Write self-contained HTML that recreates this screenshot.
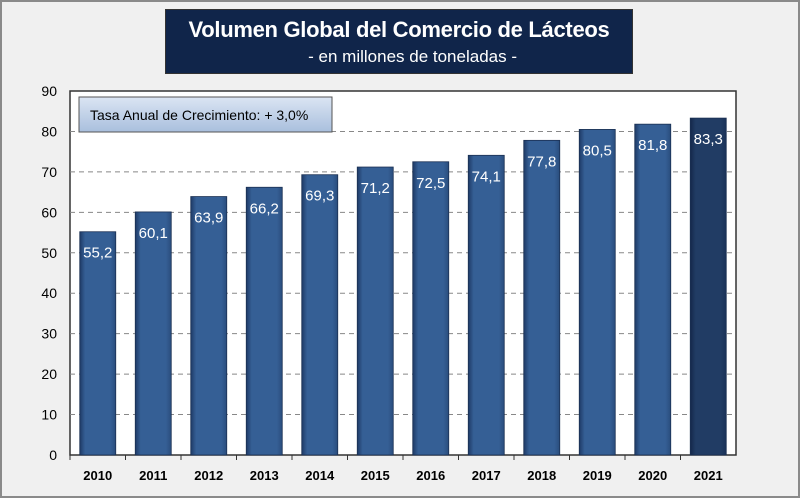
<!DOCTYPE html>
<html><head><meta charset="utf-8"><style>
body{margin:0;width:800px;height:498px;overflow:hidden;background:#f0f0f0;font-family:"Liberation Sans",sans-serif}
#frame{position:absolute;left:0;top:0;width:796px;height:494px;border:2px solid #8a8a8a;background:#f0f0f0}
#title{position:absolute;left:165px;top:9px;width:466px;height:63px;background:#10254a;border:1px solid #333;color:#fff;text-align:center;white-space:nowrap;overflow:hidden}
#title .t{font-size:22px;font-weight:bold;margin-top:7px;letter-spacing:-0.3px}
#title .s{font-size:17px;text-align:right;padding-right:115px;margin-top:4px}
</style></head><body>
<div id="frame"></div>
<div id="title"><div class="t">Volumen Global del Comercio de Lácteos</div><div class="s">- en millones de toneladas -</div></div>
<svg id="chart" width="800" height="498" style="position:absolute;left:0;top:0">
<defs>
<linearGradient id="bg" x1="0" x2="1"><stop offset="0" stop-color="#1e3a66"/><stop offset="0.15" stop-color="#355f95"/><stop offset="0.85" stop-color="#355f95"/><stop offset="1" stop-color="#2a4d7d"/></linearGradient>
<linearGradient id="bg2" x1="0" x2="1"><stop offset="0" stop-color="#14284a"/><stop offset="0.15" stop-color="#213c64"/><stop offset="0.85" stop-color="#213c64"/><stop offset="1" stop-color="#1a3258"/></linearGradient>
<linearGradient id="lg" x1="0" y1="0" x2="0" y2="1"><stop offset="0" stop-color="#dbe5f3"/><stop offset="1" stop-color="#a9bfdd"/></linearGradient>
</defs>
<rect x="70" y="91" width="666" height="364" fill="#fff" stroke="#333" stroke-width="1.5"/>
<g id="g"></g>
</svg>
<script>
const categories=["2010","2011","2012","2013","2014","2015","2016","2017","2018","2019","2020","2021"];
const values=[55.2,60.1,63.9,66.2,69.3,71.2,72.5,74.1,77.8,80.5,81.8,83.3];
const labels=["55,2","60,1","63,9","66,2","69,3","71,2","72,5","74,1","77,8","80,5","81,8","83,3"];
const ticks=[0,10,20,30,40,50,60,70,80,90];
const L=70,R=736,T=91,B=455,yMax=90;
const y=v=>B-(v/yMax)*(B-T);
const bw=(R-L)/categories.length;
const x=i=>L+i*bw;
const g=document.getElementById('g');
const NS="http://www.w3.org/2000/svg";
function mk(t,a){const e=document.createElementNS(NS,t);for(const k in a)e.setAttribute(k,a[k]);g.appendChild(e);return e;}
ticks.forEach(t=>{
 if(t>0&&t<yMax){const l=mk('line',{x1:L,x2:R,y1:y(t),y2:y(t),stroke:'#888','stroke-dasharray':'5,4'});
 
 }
 const tx=mk('text',{x:L-13,y:y(t)+5,'text-anchor':'end','font-size':'14',fill:'#000'});tx.textContent=t;
 
 
});
categories.forEach((c,i)=>{
 const last=i===categories.length-1;
 const r=mk('rect',{x:x(i)+(bw-36)/2,y:y(values[i]),width:36,height:B-y(values[i]),fill:last?'url(#bg2)':'url(#bg)',stroke:'#1a2f52','stroke-width':'0.8'});
 
 
 const vl=mk('text',{x:x(i)+bw/2,y:y(values[i])+26,'text-anchor':'middle','font-size':'15',fill:'#fff'});vl.textContent=labels[i];
 
 
 const cl=mk('text',{x:x(i)+bw/2,y:B+25,'text-anchor':'middle','font-size':'13','font-weight':'bold',fill:'#000'});cl.textContent=c;
 
 
 mk('line',{x1:x(i),x2:x(i),y1:B,y2:B+5,stroke:'#333'});
});
const lb=mk('rect',{x:79,y:97,width:253,height:35,fill:'url(#lg)',stroke:'#555'});


const lt=mk('text',{x:90,y:120,'font-size':'14',fill:'#000'});lt.textContent='Tasa Anual de Crecimiento: + 3,0%';


</script>
</body></html>
